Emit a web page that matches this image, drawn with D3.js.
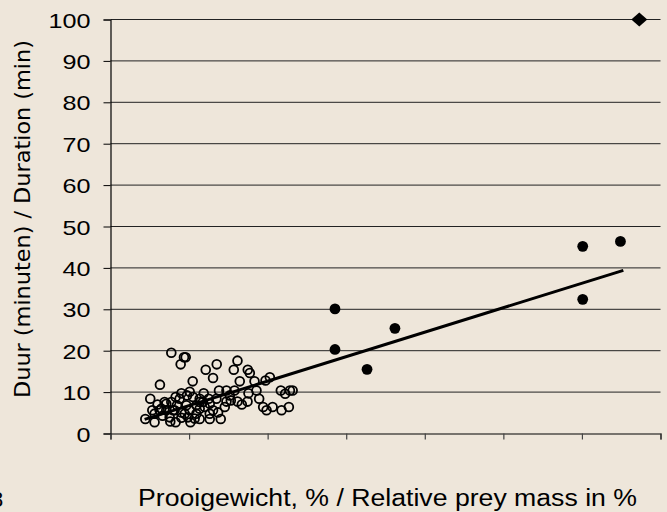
<!DOCTYPE html>
<html>
<head>
<meta charset="utf-8">
<script src="https://cdn.jsdelivr.net/npm/d3@7"></script>
<style>
  html, body { margin: 0; padding: 0; background: #EEE6DA; }
  svg { display: block; }
</style>
</head>
<body>
<svg id="chart" width="667" height="512"></svg>
<script>
// ---- data ----
const yTicks = [0, 10, 20, 30, 40, 50, 60, 70, 80, 90, 100];
const xTicks = [0, 1, 2, 3, 4, 5, 6, 7];

const openX = [0.774, 0.935, 0.957, 0.893, 0.629, 0.506, 0.443, 0.561, 0.761, 1.017,
  0.532, 0.689, 0.902, 1.008, 1.046, 1.212, 1.352, 1.305, 1.616, 1.569,
  1.747, 1.773, 1.645, 1.833, 2.028, 1.973, 1.381, 1.476, 1.578, 1.756,
  1.858, 2.168, 2.223, 2.283, 2.318, 1.892, 1.616, 1.744, 1.476, 1.454,
  1.943, 1.986, 2.063, 2.177, 2.270, 1.403, 1.263, 1.135, 1.186, 1.250,
  1.348, 1.135, 0.880, 0.973, 0.710, 0.795, 0.902, 1.008, 1.135, 1.199,
  1.305, 1.369, 0.625, 0.753, 0.902, 0.986, 0.846, 0.966, 1.093, 1.177,
  1.263, 0.710, 0.647, 0.774, 0.816, 1.263, 0.944, 1.093, 0.561, 1.050,
  1.135, 1.531, 0.829, 0.663, 1.518, 1.671, 0.599, 1.071, 0.829];
const openY = [19.5, 18.4, 18.4, 16.7, 11.8, 8.4, 3.5, 2.7, 2.9, 2.7,
  5.6, 7.6, 9.7, 10.1, 12.6, 15.4, 16.7, 13.4, 17.6, 15.4,
  15.4, 14.6, 12.6, 12.6, 13.6, 12.8, 10.4, 10.4, 10.4, 9.7,
  10.4, 10.4, 9.6, 10.4, 10.4, 8.4, 7.7, 7.7, 7.7, 6.4,
  6.4, 5.6, 6.4, 5.6, 6.4, 3.5, 3.5, 3.5, 9.7, 8.4,
  8.4, 8.4, 8.4, 9.2, 5.6, 5.6, 5.1, 5.6, 6.0, 6.4,
  5.6, 5.1, 5.6, 3.9, 3.8, 3.9, 6.8, 6.8, 6.8, 7.6,
  7.2, 7.2, 6.0, 7.6, 5.6, 4.8, 4.8, 4.8, 4.8, 8.8,
  7.6, 8.0, 8.8, 4.3, 9.2, 7.0, 7.0, 3.6, 2.7];

const filledX = [2.857, 2.857, 3.265, 3.62, 6.01, 6.49, 6.01];
const filledY = [30.1, 20.3, 15.5, 25.4, 45.2, 46.4, 32.4];

const diamondX = [6.73];
const diamondY = [100];

const fitX = [0.434, 6.527];
const fitY = [3.4, 39.4];

const xTitle = "Prooigewicht, % / Relative prey mass in %";
const yTitle = "Duur (minuten) / Duration  (min)";
const cornerLabel = "8";

// ---- layout ----
const svg = d3.select("#chart");
const mLeft = 110.5, mRight = 660.5, mTop = 19.5, mBottom = 433.5;

const x = d3.scaleLinear().domain([0, 7]).range([mLeft, mRight]);
const y = d3.scaleLinear().domain([0, 100]).range([mBottom, mTop]);

svg.append("rect").attr("width", 667).attr("height", 512).attr("fill", "#EEE6DA");

// gridlines
svg.append("g").selectAll("line").data(yTicks.filter(d => d > 0)).join("line")
  .attr("x1", mLeft).attr("x2", mRight)
  .attr("y1", d => y(d)).attr("y2", d => y(d))
  .attr("stroke", "#222").attr("stroke-width", 1);

// y axis
const yAxis = d3.axisLeft(y).tickValues(yTicks).tickSize(7).tickPadding(13);
const gy = svg.append("g").attr("transform", `translate(${mLeft},0)`).call(yAxis);
gy.select(".domain").attr("stroke", "#000").attr("stroke-width", 1.2);
gy.selectAll(".tick line").attr("stroke", "#000");
gy.selectAll(".tick text")
  .attr("font-family", "Liberation Sans, Arial, sans-serif")
  .attr("font-size", 21)
  .attr("fill", "#000")
  .attr("dy", "0.36em")
  .attr("textLength", d => String(d).length * 14)
  .attr("lengthAdjust", "spacingAndGlyphs");

// x axis
const xAxis = d3.axisBottom(x).tickValues(xTicks).tickSize(6).tickFormat("");
const gx = svg.append("g").attr("transform", `translate(0,${mBottom})`).call(xAxis);
gx.select(".domain").attr("stroke", "#000").attr("stroke-width", 1.2);
gx.selectAll(".tick line").attr("stroke", "#444").attr("stroke-width", 1.2);

// open circles
svg.append("g").selectAll("circle").data(openX.map((d, i) => [d, openY[i]])).join("circle")
  .attr("cx", d => x(d[0])).attr("cy", d => y(d[1])).attr("r", 4.4)
  .attr("fill", "none").attr("stroke", "#000").attr("stroke-width", 1.8);

// regression line
svg.append("line")
  .attr("x1", x(fitX[0])).attr("y1", y(fitY[0]))
  .attr("x2", x(fitX[1])).attr("y2", y(fitY[1]))
  .attr("stroke", "#000").attr("stroke-width", 3);

// filled circles
svg.append("g").selectAll("circle").data(filledX.map((d, i) => [d, filledY[i]])).join("circle")
  .attr("cx", d => x(d[0])).attr("cy", d => y(d[1])).attr("r", 5.4)
  .attr("fill", "#000");

// diamond
svg.append("g").selectAll("path").data(diamondX.map((d, i) => [d, diamondY[i]])).join("path")
  .attr("transform", d => `translate(${x(d[0])},${y(d[1])})`)
  .attr("d", "M-8,0L0,-7L8,0L0,7Z")
  .attr("fill", "#000");

// titles
svg.append("text")
  .attr("x", 138).attr("y", 506)
  .attr("font-family", "Liberation Sans, Arial, sans-serif")
  .attr("font-size", 23)
  .attr("fill", "#000")
  .attr("textLength", 499).attr("lengthAdjust", "spacingAndGlyphs")
  .text(xTitle);

svg.append("text")
  .attr("transform", "translate(30,398) scale(1.15,1) rotate(-90)")
  .attr("x", 0).attr("y", 0)
  .attr("font-family", "DejaVu Sans, Verdana, sans-serif")
  .attr("font-size", 18)
  .attr("fill", "#000")
  .attr("textLength", 358).attr("lengthAdjust", "spacingAndGlyphs")
  .text(yTitle);

svg.append("text")
  .attr("x", -9).attr("y", 507)
  .attr("font-family", "Liberation Sans, Arial, sans-serif")
  .attr("font-size", 22)
  .attr("fill", "#000")
  .text(cornerLabel);
</script>
</body>
</html>
